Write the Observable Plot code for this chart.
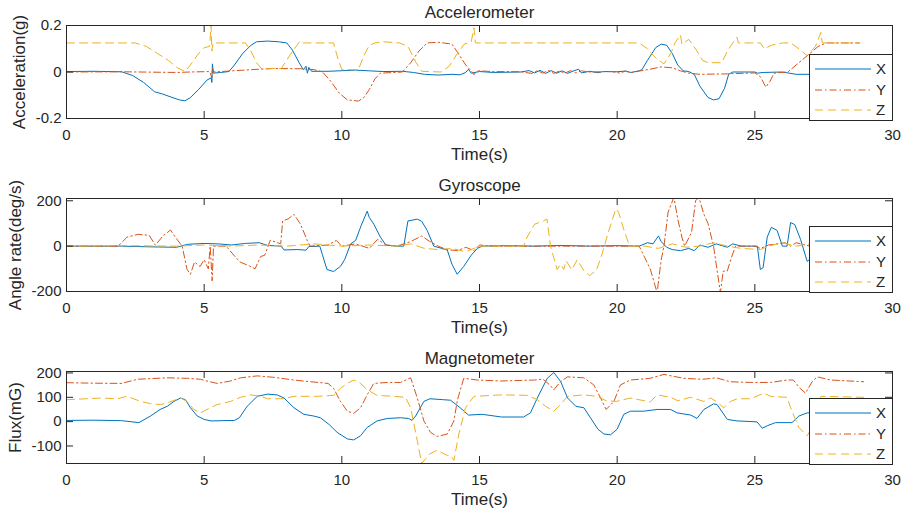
<!DOCTYPE html>
<html>
<head>
<meta charset="utf-8">
<script src="https://cdn.jsdelivr.net/npm/d3@7"></script>
<script src="https://cdn.jsdelivr.net/npm/@observablehq/plot@0.6"></script>
<style>
  html, body { margin: 0; padding: 0; background: #fff; }
  .panel { position: relative; width: 909px; height: 172px; }
  .panel svg { display: block; }
  .legend { position: absolute; left: 809px; top: 54px; }
</style>
</head>
<body>
<div id="chart"></div>
<script>
// ---------- shared ----------
const timeTicks = [0, 5, 10, 15, 20, 25, 30];
const seriesNames = ["X", "Y", "Z"];
const colors = ["#0072BD", "#D95319", "#EDB120"];
const dashes = [null, "7,3,1.5,3", "8,5"];

// ---------- Accelerometer (g) ----------
const accTicks = [-0.2, 0, 0.2];
const accX = [[0,0.002],[1,0.003],[2,0.001],[2.4,-0.015],[2.8,-0.045],[3.2,-0.085],[3.5,-0.095],[3.8,-0.108],[4.1,-0.12],[4.3,-0.124],[4.5,-0.11],[4.8,-0.075],[5.1,-0.035],[5.25,-0.025],[5.28,-0.045],[5.3,0.035],[5.33,-0.005],[5.6,-0.002],[5.9,0.002],[6.1,0.03],[6.4,0.08],[6.7,0.115],[6.9,0.13],[7.3,0.133],[7.7,0.13],[8.0,0.125],[8.2,0.095],[8.45,0.04],[8.6,0.01],[8.7,0.025],[8.75,-0.005],[8.8,0.02],[8.9,0.003],[9.5,0.003],[10.5,0.008],[11,0.005],[11.5,0.002],[12.2,0.003],[12.6,-0.002],[13,-0.01],[13.5,-0.013],[14.0,-0.01],[14.3,-0.012],[14.5,-0.002],[14.6,0.012],[14.7,-0.005],[15,0.002],[15.5,-0.002],[16.5,0],[16.8,0.006],[17,-0.004],[17.2,0.007],[17.4,-0.006],[17.6,0.006],[17.8,-0.005],[18,0.005],[18.2,-0.006],[18.4,0.004],[18.6,0.012],[18.7,-0.004],[19,0.003],[19.3,-0.003],[19.5,0.002],[20,0.001],[20.3,0.004],[20.5,-0.002],[20.8,0.005],[20.9,0.01],[21.1,0.05],[21.4,0.105],[21.6,0.12],[21.8,0.115],[22,0.08],[22.2,0.03],[22.4,0.005],[22.6,0.002],[22.8,-0.01],[23.0,-0.06],[23.3,-0.11],[23.5,-0.12],[23.7,-0.115],[23.9,-0.07],[24.05,-0.01],[24.2,0],[25,0],[25.1,-0.005],[25.3,-0.002],[26,0],[26.5,-0.01],[27,-0.01],[28,-0.01],[28.8,-0.01]];
const accY = [[0,0],[2,0.001],[4,-0.002],[4.5,0],[5.2,0.002],[5.28,-0.025],[5.3,0.02],[5.35,0],[6,0.005],[7,0.012],[7.5,0.015],[8.5,0.014],[9,0.01],[9.3,0],[9.6,-0.04],[9.9,-0.09],[10.2,-0.12],[10.6,-0.125],[10.8,-0.11],[11.0,-0.075],[11.2,-0.03],[11.4,-0.005],[12.2,0],[12.5,0.04],[12.8,0.09],[13.1,0.125],[13.5,0.128],[14.0,0.12],[14.2,0.085],[14.5,0.03],[14.7,0.005],[14.8,-0.012],[14.9,0.005],[15.5,0.002],[16.5,0.001],[16.9,-0.006],[17.1,0.006],[17.3,-0.005],[17.5,0.007],[17.7,-0.006],[17.9,0.004],[18.1,-0.005],[18.3,0.006],[18.5,-0.004],[18.7,0.005],[19,0],[19.8,0.002],[20.1,-0.005],[20.3,0.004],[20.5,-0.003],[20.8,0.004],[21.2,0.012],[21.6,0.022],[22,0.018],[22.3,0.005],[22.6,-0.005],[23,-0.01],[24,-0.008],[25,-0.004],[25.2,-0.02],[25.4,-0.065],[25.55,-0.04],[25.7,-0.005],[26.2,0],[26.6,0.04],[27,0.08],[27.3,0.11],[27.6,0.125],[28.8,0.125]];
const accZ = [[0,0.125],[2.5,0.125],[2.9,0.11],[3.3,0.08],[3.7,0.05],[4.0,0.02],[4.3,0.002],[4.5,0.03],[4.8,0.08],[5.0,0.105],[5.2,0.11],[5.25,0.2],[5.28,0.09],[5.32,0.125],[6.5,0.125],[6.7,0.09],[6.9,0.04],[7.1,0.012],[7.5,0.015],[7.8,0.015],[8.1,0.07],[8.4,0.12],[8.5,0.135],[8.6,0.125],[9.7,0.125],[9.85,0.06],[10.0,0.01],[10.6,0.01],[10.8,0.07],[11.0,0.115],[11.2,0.125],[11.5,0.13],[12.1,0.125],[12.4,0.11],[12.7,0.04],[12.9,0.003],[13.6,0.0],[13.9,0.025],[14.2,0.08],[14.45,0.12],[14.7,0.13],[14.8,0.19],[14.85,0.125],[20.8,0.125],[21.1,0.1],[21.4,0.06],[21.7,0.035],[21.95,0.08],[22.1,0.125],[22.3,0.16],[22.35,0.12],[22.6,0.14],[22.7,0.125],[22.9,0.09],[23.1,0.05],[23.3,0.04],[23.8,0.04],[24.0,0.09],[24.2,0.125],[24.35,0.15],[24.4,0.125],[25.2,0.125],[25.35,0.1],[25.6,0.115],[26.0,0.125],[26.3,0.125],[26.6,0.1],[26.9,0.07],[27.2,0.11],[27.4,0.17],[27.45,0.125],[28.8,0.125]];

// ---------- Gyroscope (deg/s) ----------
const gyroTicks = [-200, 0, 200];
const gyroX = [[0,0],[2,0],[3,-3],[4,-5],[4.4,8],[5,12],[5.5,10],[6,5],[6.5,12],[7,15],[7.3,3],[7.8,0],[7.9,-17],[8.4,-15],[8.7,-18],[8.8,-2],[9.2,0],[9.3,-40],[9.46,-103],[9.7,-112],[9.95,-89],[10.1,-60],[10.32,10],[10.5,25],[10.7,90],[10.92,154],[11.0,126],[11.16,97],[11.4,40],[11.6,5],[12.0,0],[12.25,0],[12.4,111],[12.74,119],[12.9,110],[13.1,69],[13.34,0],[13.83,-17],[14.0,-80],[14.19,-124],[14.43,-89],[14.7,-40],[14.92,-10],[15.1,0],[16,2],[17,0],[18,3],[19,0],[20,2],[20.8,0],[21.1,15],[21.3,10],[21.5,45],[21.6,20],[21.8,-5],[22,-15],[22.3,-20],[22.6,-10],[22.8,-20],[23.0,5],[23.3,-5],[23.6,10],[24.0,-5],[24.2,10],[24.5,0],[25.09,0],[25.2,-103],[25.3,-95],[25.45,40],[25.6,83],[25.81,69],[26.0,0],[26.17,0],[26.3,104],[26.45,95],[26.66,30],[26.9,-67],[27.2,-40],[27.6,0],[28.8,0]];
const gyroY = [[0,0],[1.84,0],[1.96,10],[2.2,40],[2.6,52],[3.0,48],[3.23,4],[3.5,45],[3.78,71],[3.95,40],[4.2,0],[4.38,-103],[4.5,-124],[4.65,-70],[4.85,-90],[5.0,-60],[5.15,-100],[5.22,0],[5.29,-153],[5.34,0],[5.8,0],[6.07,-39],[6.3,-70],[6.6,-85],[6.85,-100],[7.05,-46],[7.2,-40],[7.4,26],[7.78,10],[7.85,111],[8.05,120],[8.26,140],[8.5,97],[8.74,26],[8.85,0],[9.5,5],[9.8,25],[10,0],[10.5,10],[11.0,-10],[11.3,30],[11.6,5],[12,0],[12.5,20],[12.9,45],[13.2,20],[13.5,0],[13.8,-15],[14.2,-20],[14.5,-5],[14.8,-20],[15.0,5],[15.5,0],[20.8,0],[21.0,-50],[21.2,-100],[21.45,-205],[21.6,-60],[21.7,0],[21.85,150],[22.06,215],[22.2,120],[22.35,40],[22.45,0],[22.7,60],[22.85,200],[22.97,215],[23.15,140],[23.3,100],[23.5,0],[23.75,-205],[23.85,-110],[24.0,-110],[24.15,-50],[24.3,0],[25.0,0],[25.2,-10],[25.5,5],[26.1,15],[26.3,0],[26.5,15],[27,0],[28.8,0]];
const gyroZ = [[0,0],[2,2],[4,0],[5,5],[6,0],[7,5],[8,0],[9,10],[10,0],[11,5],[12,0],[12.5,10],[13,-10],[13.5,-15],[14,-10],[14.5,-25],[14.8,-10],[15,0],[16.6,0],[16.73,40],[17.0,97],[17.33,111],[17.45,120],[17.58,0],[17.82,-103],[17.95,-80],[18.06,-103],[18.15,-65],[18.35,-105],[18.55,-60],[18.8,-110],[19.0,-130],[19.25,-105],[19.45,-35],[19.65,50],[19.95,165],[20.05,150],[20.25,70],[20.45,0],[21,0],[21.5,-10],[22,10],[22.5,-5],[23,0],[23.5,15],[24,0],[24.5,-10],[25.2,-15],[25.5,0],[26,15],[26.5,0],[27,10],[28.8,0]];

// ---------- Magnetometer (mG) ----------
const magTicks = [-100, 0, 100, 200];
const magX = [[0,5],[1,6],[2,4],[2.63,-4],[3.05,23],[3.4,50],[3.66,63],[3.9,83],[4.14,97],[4.32,90],[4.5,57],[4.75,23],[5.0,9],[5.25,3],[6.1,5],[6.28,16],[6.56,63],[6.93,104],[7.3,113],[7.65,110],[7.9,97],[8.26,57],[8.62,30],[8.98,23],[9.22,16],[9.53,-11],[9.83,-44],[10.2,-71],[10.43,-75],[10.68,-58],[10.92,-24],[11.28,3],[11.65,13],[12.13,16],[12.43,13],[12.55,5],[12.68,23],[12.98,83],[13.2,94],[13.7,90],[13.95,88],[14.3,57],[14.6,27],[15.1,30],[15.8,19],[16.6,19],[16.85,36],[17.1,97],[17.46,178],[17.7,202],[17.95,164],[18.2,97],[18.5,63],[18.79,57],[19.03,16],[19.3,-31],[19.52,-51],[19.76,-54],[20.0,-31],[20.24,30],[20.48,43],[20.97,43],[21.45,50],[21.94,50],[22.18,36],[22.67,27],[22.9,13],[23.15,50],[23.5,73],[23.63,70],[24.0,9],[24.36,3],[25.08,-1],[25.27,-27],[25.45,-17],[25.75,-4],[26.35,-4],[26.6,23],[26.9,36],[27.3,38],[28.8,38]];
const magY = [[0,160],[1,158],[2,157],[2.57,174],[3.66,180],[4.4,178],[4.87,174],[5.1,167],[5.47,157],[5.96,167],[6.32,180],[6.93,188],[7.53,182],[8.26,171],[8.86,164],[9.5,157],[9.7,137],[9.95,83],[10.2,43],[10.43,34],[10.68,57],[10.92,110],[11.16,157],[11.65,161],[12.13,161],[12.5,180],[12.74,97],[12.98,3],[13.22,-44],[13.46,-61],[13.83,-51],[14.07,3],[14.2,90],[14.43,178],[14.92,171],[15.8,167],[17.0,171],[17.3,175],[17.55,151],[17.7,131],[17.94,164],[18.2,184],[18.79,180],[19.15,151],[19.4,97],[19.6,50],[19.88,83],[20.12,151],[20.48,171],[21.2,178],[21.7,194],[22.42,178],[23.1,174],[23.6,180],[24.1,164],[24.84,161],[25.57,161],[26.17,171],[26.4,171],[26.64,137],[26.84,117],[27.08,164],[27.27,184],[27.75,171],[28.95,164]];
const magZ = [[0,90],[1.23,97],[1.84,94],[2.2,104],[2.69,83],[3.05,74],[3.41,70],[3.66,77],[4.14,97],[4.38,83],[4.62,50],[4.87,36],[5.1,50],[5.47,70],[5.96,83],[6.32,100],[6.68,110],[7.05,104],[7.3,94],[7.9,94],[8.26,104],[9.1,104],[9.7,108],[9.95,137],[10.2,157],[10.43,171],[10.68,157],[10.92,131],[11.28,108],[11.89,104],[12.31,100],[12.5,57],[12.74,-78],[12.9,-172],[13.2,-132],[13.46,-118],[13.83,-139],[13.95,-139],[14.07,-159],[14.25,-51],[14.49,57],[14.8,104],[15.8,110],[16.73,108],[17.1,90],[17.4,63],[17.7,43],[17.94,70],[18.2,104],[18.79,110],[19.27,104],[19.6,86],[19.97,83],[20.48,97],[21.2,81],[21.45,110],[21.94,100],[22.2,86],[22.67,100],[23.15,83],[23.39,97],[23.6,83],[23.87,57],[24.12,83],[24.36,94],[24.84,94],[25.33,117],[25.57,104],[26.17,100],[26.3,57],[26.6,-24],[26.9,-58],[27.1,-20],[27.4,104],[28.95,100]];

// ---------- panel builder ----------
const FONT = "'Liberation Sans', Arial, Helvetica, sans-serif";
const INK = "#262626";

function panel(cfg) {
  const W = 909, H = 172, ml = 66, mr = 17;
  const fw = W - ml - mr, fh = H - cfg.mt - cfg.mb;
  const tl = 7;
  const lines = cfg.series.map((s, i) => Plot.line(s, {
    x: d => d[0], y: d => d[1], stroke: colors[i], strokeWidth: 1,
    strokeDasharray: dashes[i], clip: true, curve: "linear"
  }));
  const svg = Plot.plot({
    width: W, height: H, marginLeft: ml, marginRight: mr, marginTop: cfg.mt, marginBottom: cfg.mb,
    style: {fontFamily: FONT, fontSize: "15px", color: INK, background: "white", overflow: "visible"},
    x: {domain: [0, 30]},
    y: {domain: cfg.yDomain},
    marks: [
      ...lines,
      Plot.frame({stroke: INK, strokeWidth: 1}),
      Plot.axisX(timeTicks, {tickSize: 0, tickPadding: 11, label: null, tickFormat: d => String(d), fontSize: 15, fill: INK}),
      Plot.axisY(cfg.yTicks, {tickSize: 0, tickPadding: 5, label: null, tickFormat: d => String(d), fontSize: 15, fill: INK}),
      Plot.tickX(timeTicks, {x: d => d, insetTop: fh - tl, stroke: INK}),
      Plot.tickX(timeTicks, {x: d => d, insetBottom: fh - tl, stroke: INK}),
      Plot.tickY(cfg.yTicks, {y: d => d, insetRight: fw - tl, stroke: INK}),
      Plot.tickY(cfg.yTicks, {y: d => d, insetLeft: fw - tl, stroke: INK}),
      Plot.text([cfg.title], {text: d => d, frameAnchor: "top", dy: -13, lineAnchor: "middle", fontSize: 17, fill: INK}),
      Plot.text(["Time(s)"], {text: d => d, frameAnchor: "bottom", dy: 36, lineAnchor: "middle", fontSize: 17, fill: INK}),
      Plot.text([cfg.ylabel], {text: d => d, frameAnchor: "left", dx: cfg.ylDx, rotate: -90, lineAnchor: "middle", textAnchor: "middle", fontSize: 17, fill: INK})
    ]
  });
  const div = document.createElement("div");
  div.className = "panel";
  div.appendChild(svg);
  // legend box
  const lg = d3.create("svg").attr("class", "legend").attr("width", 84).attr("height", 67);
  lg.append("rect").attr("x", 0.5).attr("y", 0.5).attr("width", 83).attr("height", 66)
    .attr("fill", "white").attr("stroke", INK).attr("stroke-width", 1);
  const rows = [15, 36, 56];
  seriesNames.forEach((n, i) => {
    lg.append("line").attr("x1", 6).attr("x2", 62).attr("y1", rows[i]).attr("y2", rows[i])
      .attr("stroke", colors[i]).attr("stroke-width", 1.2)
      .attr("stroke-dasharray", dashes[i]);
    lg.append("text").attr("x", 67).attr("y", rows[i]).attr("dy", "0.36em")
      .attr("font-family", FONT).attr("font-size", 15).attr("fill", INK).text(n);
  });
  div.appendChild(lg.node());
  return div;
}

const root = document.getElementById("chart");
root.appendChild(panel({title: "Accelerometer", ylabel: "Acceleration(g)", yDomain: [-0.2, 0.2], yTicks: accTicks,
  series: [accX, accY, accZ], mt: 25, mb: 54, ylDx: -47}));
root.appendChild(panel({title: "Gyroscope", ylabel: "Angle rate(deg/s)", yDomain: [-200, 210], yTicks: gyroTicks,
  series: [gyroX, gyroY, gyroZ], mt: 26, mb: 53, ylDx: -51}));
root.appendChild(panel({title: "Magnetometer", ylabel: "Flux(mG)", yDomain: [-172, 206], yTicks: magTicks,
  series: [magX, magY, magZ], mt: 27, mb: 53, ylDx: -51}));
</script>
</body>
</html>
